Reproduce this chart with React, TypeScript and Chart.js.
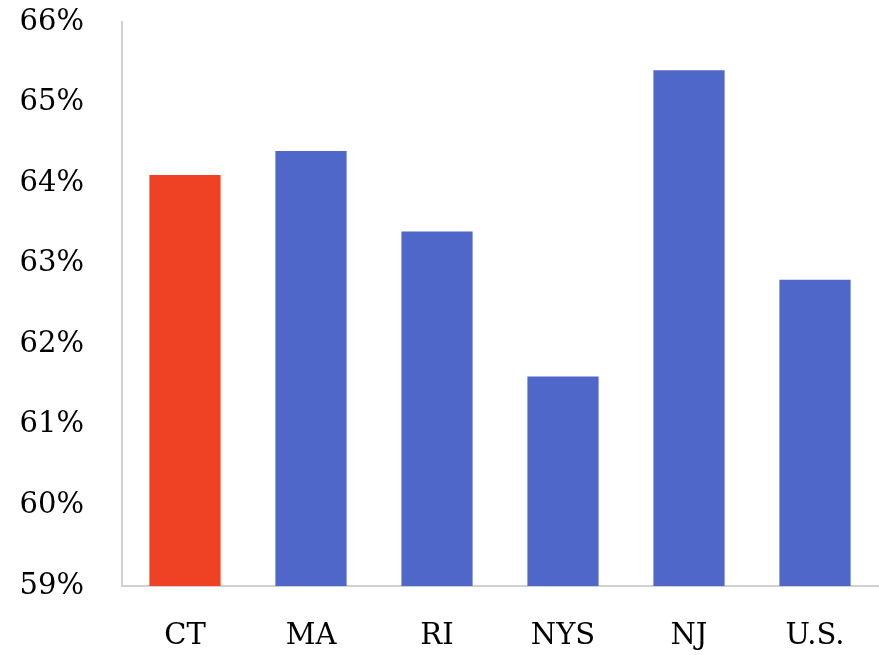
import React, { useEffect, useRef } from "react";
import { Chart, registerables } from "chart.js";

Chart.register(...registerables);

const categories = ["CT", "MA", "RI", "NYS", "NJ", "U.S."];
const values = [64.1, 64.4, 63.4, 61.6, 65.4, 62.8];
const barColors = ["#EF4123", "#4F67C8", "#4F67C8", "#4F67C8", "#4F67C8", "#4F67C8"];
const yMin = 59;
const yMax = 66;

export default function App() {
  const ref = useRef<HTMLCanvasElement | null>(null);
  useEffect(() => {
    if (!ref.current) return;
    const font = { family: "'DejaVu Serif', 'Liberation Serif', serif", size: 29 };
    const chart = new Chart(ref.current, {
      type: "bar",
      data: {
        labels: categories,
        datasets: [
          {
            data: values,
            backgroundColor: barColors,
            borderWidth: 0,
            categoryPercentage: 1,
            barPercentage: 0.565,
          },
        ],
      },
      options: {
        animation: false,
        responsive: false,
        maintainAspectRatio: false,
        layout: { padding: { top: 22, right: 1, left: 0, bottom: 0 } },
        plugins: { legend: { display: false }, tooltip: { enabled: false } },
        scales: {
          x: {
            grid: { display: false, drawTicks: false },
            border: { display: true, color: "#D0D0D0", width: 2 },
            ticks: { color: "#000", font, padding: 33, maxRotation: 0 },
            afterFit: (s: any) => {
              s.height = 69;
              s.paddingLeft = 0;
              s.paddingRight = 0;
            },
          },
          y: {
            min: yMin,
            max: yMax,
            grid: { display: false, drawTicks: false },
            border: { display: true, color: "#D0D0D0", width: 2 },
            ticks: {
              stepSize: 1,
              color: "#000",
              font,
              padding: 38,
              callback: (v: any) => `${v}%`,
            },
            afterFit: (s: any) => {
              s.width = 122;
              s.paddingTop = 0;
              s.paddingBottom = 0;
            },
          },
        },
      },
    });
    return () => chart.destroy();
  }, []);
  return (
    <div style={{ position: "fixed", left: 0, top: 0, width: 879, height: 655, background: "#fff" }}>
      <canvas ref={ref} width={879} height={655} style={{ width: 879, height: 655 }} />
    </div>
  );
}
